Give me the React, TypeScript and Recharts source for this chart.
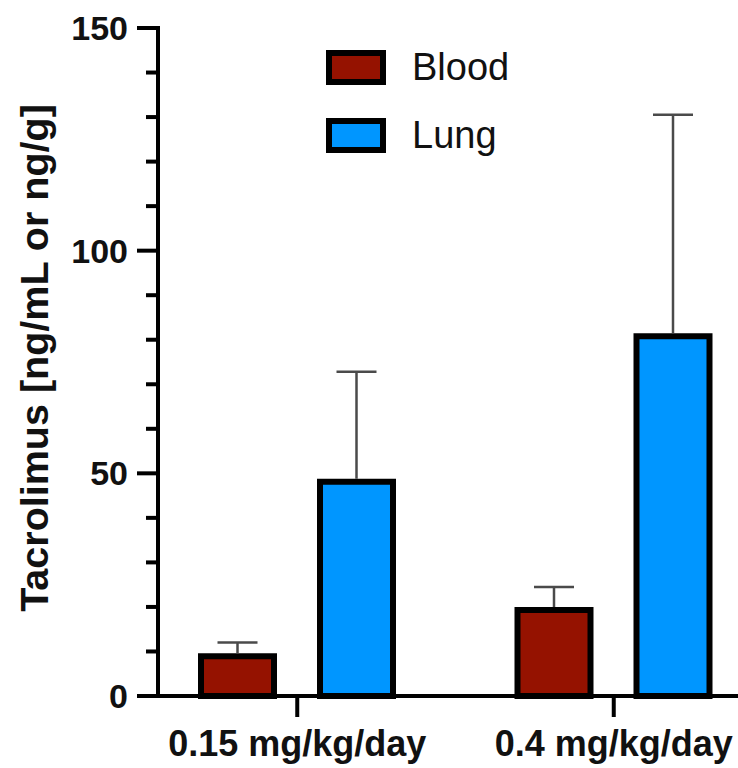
import React from "react";
import { BarChart, Bar, XAxis, YAxis, Legend } from "recharts";

const categories = ["0.15 mg/kg/day", "0.4 mg/kg/day"];
const bloodMean = [8.9, 19.3];
const bloodSd = [3.1, 5.2];
const lungMean = [48.1, 80.8];
const lungSd = [24.7, 49.7];

const seriesNames = ["Blood", "Lung"];
const seriesColors = ["#951200", "#0096FF"];

const yTicks = [0, 10, 20, 30, 40, 50, 60, 70, 80, 90, 100, 110, 120, 130, 140, 150];
const yTickLabels = [0, 50, 100, 150];
const yLabel = "Tacrolimus [ng/mL or ng/g]";

const FONT = '"Liberation Sans", Arial, Helvetica, sans-serif';

const data = categories.map((name, i) => ({
  name,
  blood: bloodMean[i],
  bloodErr: bloodSd[i],
  lung: lungMean[i],
  lungErr: lungSd[i],
}));

const YTick = ({ x, y, payload }: any) => {
  const major = yTickLabels.includes(payload.value);
  return (
    <g>
      <line x1={x - (major ? 21 : 12)} x2={x} y1={y} y2={y} stroke="#000" strokeWidth={4} />
      {major && (
        <text x={x - 30} y={y + 12} textAnchor="end" fontSize={34} fontWeight="bold" fontFamily={FONT} fill="#111">
          {payload.value}
        </text>
      )}
    </g>
  );
};

const XTick = ({ x, y, payload }: any) => (
  <g>
    <line x1={x} x2={x} y1={y} y2={y + 21} stroke="#000" strokeWidth={4} />
    <text x={x} y={y + 60} textAnchor="middle" fontSize={36} fontWeight="bold" fontFamily={FONT} fill="#111">
      {payload.value}
    </text>
  </g>
);

const YLabel = ({ viewBox }: any) => {
  const cx = (viewBox?.x ?? 0) + 48;
  const cy = (viewBox?.y ?? 28) + (viewBox?.height ?? 668) / 2 - 4;
  return (
    <text
      x={cx}
      y={cy}
      transform={`rotate(-90 ${cx} ${cy})`}
      textAnchor="middle"
      fontSize={39.5}
      fontWeight="bold"
      fontFamily={FONT}
      fill="#111"
    >
      {yLabel}
    </text>
  );
};

// upper-only error whisker drawn on top of the mean bar
const Whisker = (props: any) => {
  const { x, y, width, height } = props;
  if (!height) return null;
  const cx = x + width / 2;
  return (
    <g>
      <line x1={cx} x2={cx} y1={y + height - 3} y2={y} stroke="#4a4a4a" strokeWidth={2.5} />
      <line x1={cx - 20} x2={cx + 20} y1={y} y2={y} stroke="#4a4a4a" strokeWidth={2.5} />
    </g>
  );
};

const renderLegend = () => (
  <div style={{ display: "flex", flexDirection: "column" }}>
    {seriesNames.map((name, i) => (
      <div key={name} style={{ display: "flex", alignItems: "center", height: 35, marginBottom: 33 }}>
        <span
          style={{
            width: 60,
            height: 35,
            boxSizing: "border-box",
            border: "6px solid #000",
            background: seriesColors[i],
          }}
        />
        <span style={{ marginLeft: 26, fontSize: 38, fontFamily: FONT, color: "#111", lineHeight: "35px" }}>
          {name}
        </span>
      </div>
    ))}
  </div>
);

export default function App() {
  return (
    <div style={{ position: "absolute", left: 0, top: 0, width: 738, height: 768, background: "#fff" }}>
      <BarChart
        width={738}
        height={768}
        data={data}
        margin={{ top: 28, right: 0, bottom: 0, left: 0 }}
        barGap={46}
        barSize={73}
      >
        <XAxis
          dataKey="name"
          height={72}
          interval={0}
          tickSize={0}
          tickMargin={0}
          tickLine={false}
          tick={<XTick />}
          axisLine={{ stroke: "#000", strokeWidth: 4 }}
          padding={{ left: -19, right: -34 }}
        />
        <YAxis
          width={158}
          domain={[0, 150]}
          ticks={yTicks}
          interval={0}
          tickSize={0}
          tickMargin={0}
          tickLine={false}
          tick={<YTick />}
          axisLine={{ stroke: "#000", strokeWidth: 4, strokeLinecap: "square" }}
          label={<YLabel />}
        />
        <Legend
          content={renderLegend}
          layout="vertical"
          align="center"
          verticalAlign="middle"
          wrapperStyle={{ left: 326, top: 50, width: 250 }}
        />
        <Bar dataKey="blood" stackId="blood" fill={seriesColors[0]} stroke="#000" strokeWidth={6} isAnimationActive={false} />
        <Bar dataKey="bloodErr" stackId="blood" fill="none" shape={Whisker} isAnimationActive={false} legendType="none" />
        <Bar dataKey="lung" stackId="lung" fill={seriesColors[1]} stroke="#000" strokeWidth={6} isAnimationActive={false} />
        <Bar dataKey="lungErr" stackId="lung" fill="none" shape={Whisker} isAnimationActive={false} legendType="none" />
      </BarChart>
    </div>
  );
}
